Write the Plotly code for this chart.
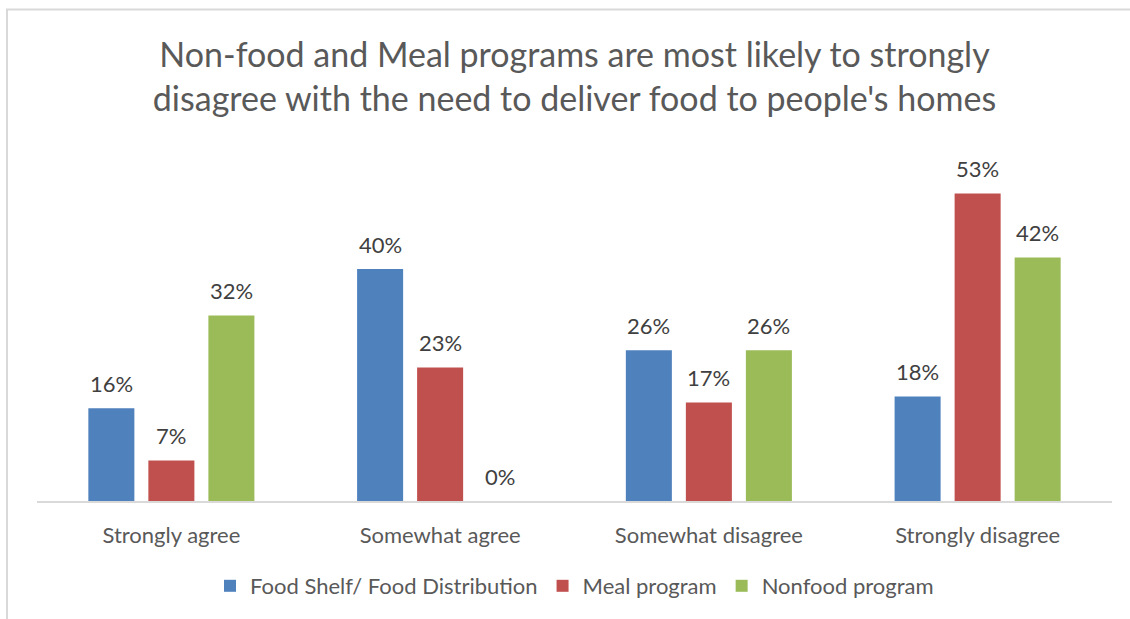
import plotly.graph_objects as go

# Survey responses by program type
categories = ["Strongly agree", "Somewhat agree", "Somewhat disagree", "Strongly disagree"]
food_shelf = [16, 40, 26, 18]
meal_program = [7, 23, 17, 53]
nonfood_program = [32, 0, 26, 42]

series = [
    ("Food Shelf/ Food Distribution", food_shelf, "#4f81bd"),
    ("Meal program", meal_program, "#c0504d"),
    ("Nonfood program", nonfood_program, "#9bbb59"),
]

FONT = "Lato"
W, H = 1130, 619
ML, MR, MT, MB = 37, 18, 153, 118
PW, PH = W - ML - MR, H - MT - MB
SLOT = 60  # pixel distance between neighbouring bars in a group

fig = go.Figure()
for i, (name, vals, color) in enumerate(series):
    fig.add_trace(go.Bar(
        name=name,
        x=categories,
        y=vals,
        marker=dict(color=color, line=dict(width=0)),
    ))
    # value labels above each bar
    for cat, v in zip(categories, vals):
        fig.add_annotation(
            x=cat, y=v, xref="x", yref="y",
            text=f"{v}%", showarrow=False,
            xshift=(i - 1) * SLOT, yshift=25, yanchor="middle",
            font=dict(family=FONT, size=22, color="#404040"),
        )

# Outer chart frame
fig.add_shape(
    type="rect", xref="paper", yref="paper",
    x0=(7 - ML) / PW, x1=(W + 20 - ML) / PW,
    y0=(H - MB - (H + 20)) / PH, y1=(H - MB - 9.5) / PH,
    line=dict(color="#d9d9d9", width=2), fillcolor="rgba(0,0,0,0)",
    layer="below",
)

fig.update_layout(
    width=W, height=H,
    margin=dict(l=ML, r=MR, t=MT, b=MB),
    paper_bgcolor="white", plot_bgcolor="white",
    title=dict(
        text="Non-food and Meal programs are most likely to strongly<br>disagree with the need to deliver food to people's homes",
        x=0.5, xanchor="center", xref="paper",
        y=1 - 67 / H, yanchor="middle",
        font=dict(family=FONT, size=34, color="#595959"),
    ),
    barmode="group",
    bargap=0.33,
    bargroupgap=0.233,
    showlegend=True,
    legend=dict(
        orientation="h", x=0.5, xanchor="center",
        y=-(586 - (H - MB)) / PH, yanchor="middle",
        font=dict(family=FONT, size=22, color="#595959"),
        itemwidth=30,
    ),
    xaxis=dict(
        showline=True, linecolor="#d9d9d9", linewidth=2,
        ticks="", tickfont=dict(family=FONT, size=22, color="#595959"),
        ticklabelstandoff=14,
        showgrid=False,
    ),
    yaxis=dict(
        range=[0, 60], visible=False, showgrid=False, zeroline=False,
    ),
)

fig.write_html("out.html")
